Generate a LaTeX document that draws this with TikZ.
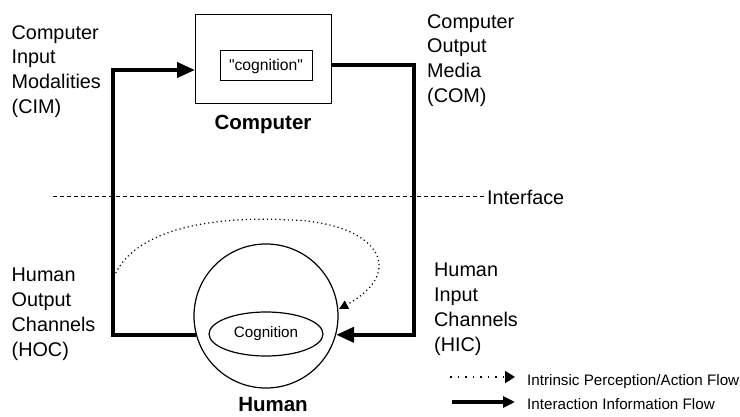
\documentclass[tikz,border=0pt]{standalone}
\usepackage{fontspec}
\setmainfont{Liberation Sans}[Ligatures=TeXOff]
\usetikzlibrary{arrows.meta,shapes.geometric}
\begin{document}
\begin{tikzpicture}[x=1pt,y=-1pt,
  lbl/.style={align=left,anchor=north west,inner sep=0,font=\fontsize{19.8}{24.8}\selectfont},
  title/.style={inner sep=0,anchor=base,font=\fontsize{20.5}{24}\selectfont\bfseries},
  legendtext/.style={inner sep=0,anchor=base west,font=\fontsize{15.2}{18}\selectfont},
  flow/.style={line width=4pt,-{Triangle[length=18pt,width=15pt]}},
  intrinsic/.style={line width=1.2pt,dash pattern=on 1.2pt off 3pt,-{Triangle[length=9pt,width=9pt]}},
  thinbox/.style={draw,line width=1pt,inner sep=0},
]
\useasboundingbox (0,0) rectangle (740,417);
% computer
\node[thinbox,minimum width=136pt,minimum height=89pt] (computer) at (263,59.5) {};
\node[thinbox,minimum width=92pt,minimum height=30pt,font=\fontsize{15.7}{18}\selectfont] (cog) at (266,66) {"cognition"};
\node[title] (computerlbl) at (263,130) {Computer};
% human
\node[draw,circle,line width=1.2pt,minimum size=144pt,inner sep=0] (human) at (266,316) {};
\node[draw,ellipse,line width=1.2pt,minimum width=114pt,minimum height=44pt,inner sep=0,font=\fontsize{15.2}{18}\selectfont] (cognition) at (266,334) {Cognition};
\node[title] (humanlbl) at (273,411) {Human};
% labels
\node[lbl] (cim) at (11.5,25) {Computer\\Input\\Modalities\\(CIM)};
\node[lbl] (com) at (427,14) {Computer\\Output\\Media\\(COM)};
\node[lbl] (hoc) at (11.5,268) {Human\\Output\\Channels\\(HOC)};
\node[lbl] (hic) at (434,263) {Human\\Input\\Channels\\(HIC)};
% interface
\coordinate (ifl) at (53,197);
\coordinate (ifr) at (485,197);
\draw[line width=1pt,dash pattern=on 4pt off 3pt] (ifl) -- (ifr);
\node[inner sep=0,anchor=west,font=\fontsize{19.8}{24}\selectfont] (interface) at (487,197) {Interface};
% interaction flows
\coordinate (leftcorner) at (113,70);
\coordinate (cimin) at (195,70);
\draw[flow] (human.195) -| (leftcorner) -- (cimin);
\coordinate (comout) at (331,65);
\coordinate (rightcorner) at (414,65);
\draw[flow] (comout) -- (rightcorner) |- (human.345);
% intrinsic flow
\coordinate (arcstart) at (114,277);
\coordinate (arcmid) at (290,220);
\coordinate (arcend) at (339,309);
\draw[intrinsic] (arcstart) .. controls (135,225) and (225,216) .. (arcmid) .. controls (375,222) and (410,270) .. (arcend);
% legend
\coordinate (l1a) at (450,377);
\coordinate (l1b) at (515,377);
\coordinate (l2a) at (452,402);
\coordinate (l2b) at (515,402);
\draw[line width=2pt,dash pattern=on 1.5pt off 6pt,-{Triangle[length=10pt,width=12pt]}] (l1a) -- (l1b);
\draw[line width=4pt,-{Triangle[length=12pt,width=11pt]}] (l2a) -- (l2b);
\node[legendtext] (leg1) at (527,385) {Intrinsic Perception/Action Flow};
\node[legendtext] (leg2) at (527,409) {Interaction Information Flow};
\end{tikzpicture}
\end{document}
